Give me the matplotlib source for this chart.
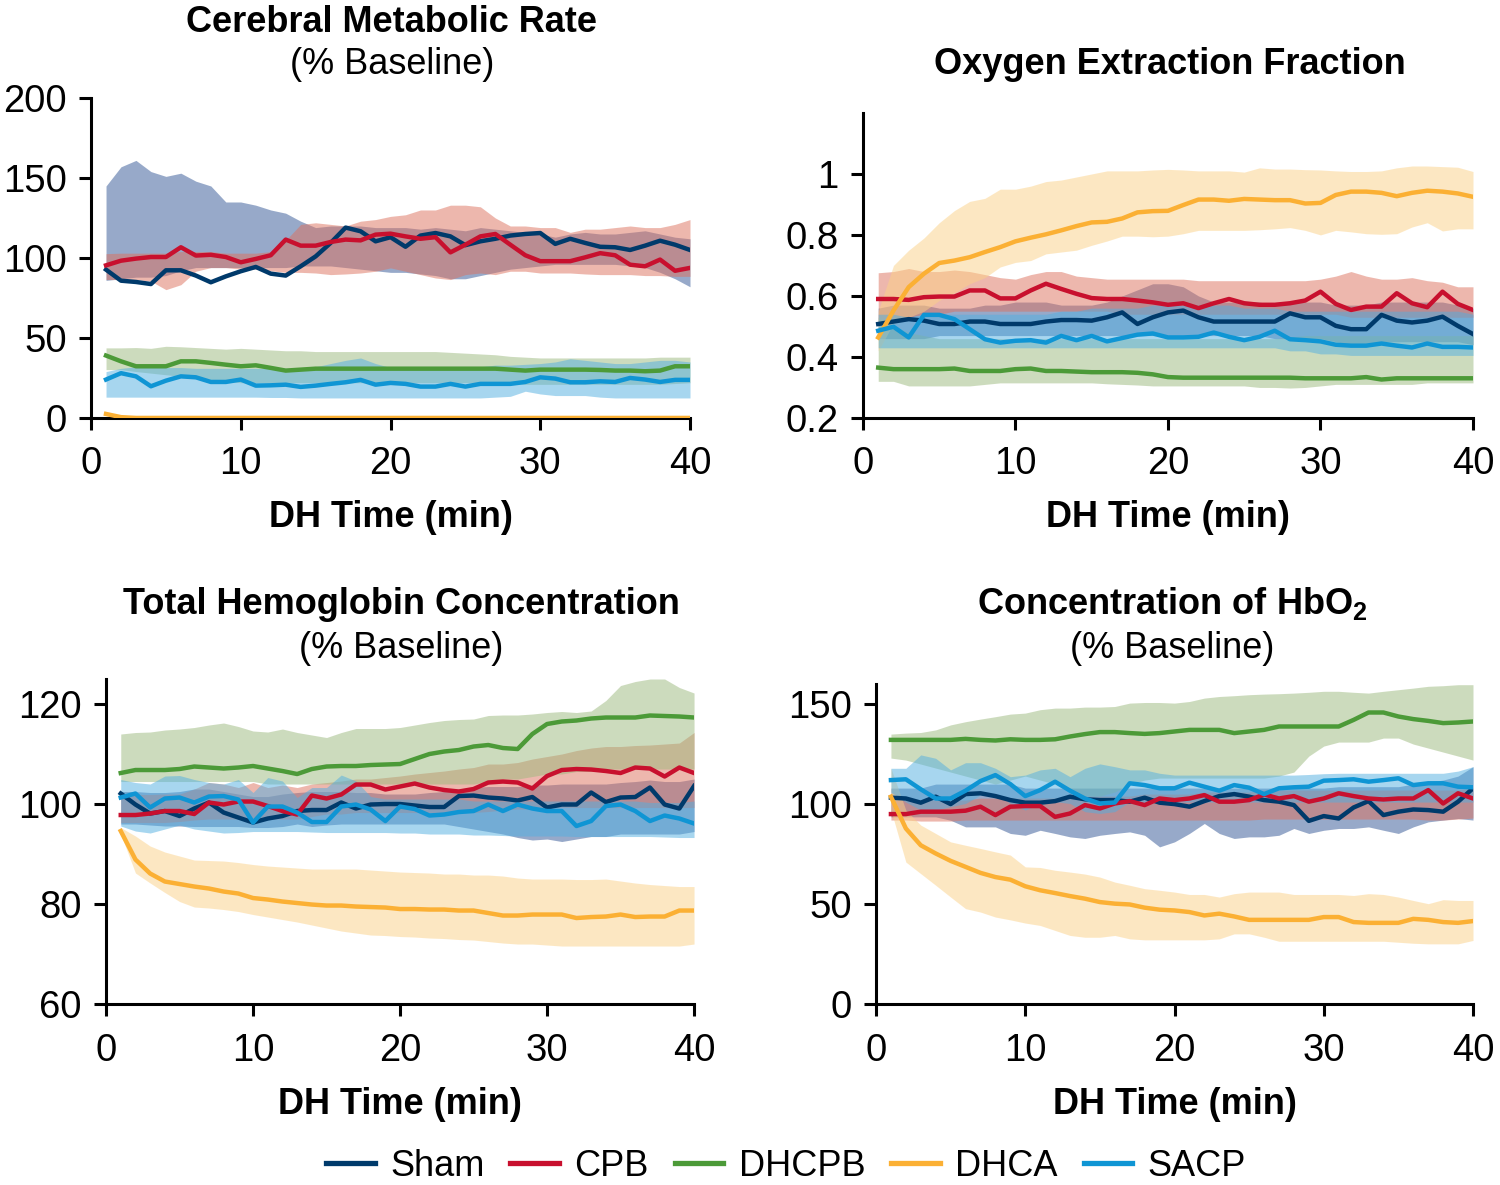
import numpy as np
import matplotlib
matplotlib.use('Agg')
import matplotlib.pyplot as plt
from matplotlib import font_manager

# pick a narrow helvetica-like face if there is one
names = set(f.name for f in font_manager.fontManager.ttflist)
if 'Liberation Sans Narrow' in names:
    FONT = 'Liberation Sans Narrow'
else:
    FONT = 'Liberation Sans'
plt.rcParams['font.family'] = [FONT, 'DejaVu Sans']
plt.rcParams['mathtext.fontset'] = 'custom'
plt.rcParams['mathtext.rm'] = FONT
plt.rcParams['mathtext.bf'] = FONT + ':bold'

TIME = list(range(1, 41))
GROUPS = ['Sham', 'CPB', 'DHCPB', 'DHCA', 'SACP']

# ---- Cerebral metabolic rate (% baseline)
CMR_SHAM = [92.7,85.8,85,83.7,92.3,92.3,89,84.8,88.5,91.7,94.4,90.2,89,94.8,101,109.4,119,116.7,110.4,113,107,114,115.6,113.5,108,110.4,112,114,115,115.6,108.8,112,109.4,107,106.7,105,107.7,110.8,108.3,105]
CMR_SHAM_HI = [145,157,161,154,151,153,148,145,135,135,133,130,128,123,119,120,120,120,119,119,119,118,119,118,117,119,118,117,116,115,113,115,116,115,115,116,117,115,113,112]
CMR_SHAM_LO = [86,87,88,88,89,92,94,94,94,94,94,94,94,95,95,95,94,93,92,91,91,90,89,87,87,89,91,93,94,95,96,96,96,96,96,95,94,91,87,82]
CMR_CPB = [95.4,98.3,99.6,100.6,100.6,106.7,101.5,102,100.6,97.3,99.4,101.7,111.5,107.7,107.7,110,111.5,111,114.6,115.2,113.5,112,113,103.5,108.3,113.5,115,108.3,101.7,98,98,98,100.4,103,101.7,95.8,94.8,99,92,93.8]
CMR_CPB_HI = [102.7,103,103,103,103,104,104,104,103,103,103,104,111,121,122,121,120,123,124,126,127,130,130,133,133,132,125,120,120,119,119,116,118,118,119,120,119,119,121,124]
CMR_CPB_LO = [86.5,86.5,86.5,85.5,80.2,83.3,91.7,94,94,93,93,92,91,91,90.6,89.6,90,90.6,91.7,93.8,91.7,89.6,87.5,86.5,89.6,90.6,89.6,91.7,91.7,90.6,90.6,90.6,90,89.6,89.6,89.6,89,89,88.5,88.5]
CMR_DHCPB = [39,35.4,32.3,32.3,32.3,35.4,35.4,34.4,33.3,32.3,32.9,31.3,29.6,30.2,30.8,30.8,30.8,30.8,30.8,30.8,30.8,30.8,30.8,30.8,30.8,30.8,30.8,30.2,29.6,30.2,30.2,30.2,30.2,30,29.6,29.6,29.2,29.6,32.3,32.3]
CMR_DHCPB_HI = [43.8,43.8,44,43.5,44.8,44.5,44,43.5,43,43.5,43,42.5,42,42,41.5,41.5,41.5,41.5,41.5,41.5,41.5,41.5,41.5,41,40.5,40,39.5,38.5,38,37.5,37.5,37.5,37.5,37.5,37.5,37.5,37.5,38,38,38]
CMR_DHCPB_LO = [30.2,30.2,29,28,27,26,25,24,23,22,22,22,22,22,22,22,22,22,22,22,22,22,22,22,22,22,22,21.5,21,21,21,21,21,21,21,21,21,21,21.5,22]
CMR_DHCA = [2.5,0.5,0,0,0,0,0,0,0,0,0,0,0,0,0,0,0,0,0,0,0,0,0,0,0,0,0,0,0,0,0,0,0,0,0,0,0,0,0,0]
CMR_DHCA_HI = [3.5,1,0.5,0.5,0.5,0.5,0.5,0.5,0.5,0.5,0.5,0.5,0.5,0.5,0.5,0.5,0.5,0.5,0.5,0.5,0.5,0.5,0.5,0.5,0.5,0.5,0.5,0.5,0.5,0.5,0.5,0.5,0.5,0.5,0.5,0.5,0.5,0.5,0.5,0.5]
CMR_DHCA_LO = [1.5,0,0,0,0,0,0,0,0,0,0,0,0,0,0,0,0,0,0,0,0,0,0,0,0,0,0,0,0,0,0,0,0,0,0,0,0,0,0,0]
CMR_SACP = [24,28,26,19.8,23.3,26,25.4,22.5,22.5,24,20.2,20.4,20.8,19.4,20.2,21.3,22.3,23.8,20.8,21.9,21.3,19.6,19.6,21.3,19.6,21.3,21.3,21.3,22.5,25.4,24.6,22.3,22.3,22.9,22.5,25,24,22.5,23.8,23.8]
CMR_SACP_HI = [29,31,32,32,31.5,31.5,31,31,31,31,31,31,31,31,32,34,36,37.5,34,31.5,31.5,31.5,31.5,31.5,31.5,32,33,33,33.5,34,35,37,36,35,34,34,35,36,36,35]
CMR_SACP_LO = [13,13,13,13,13,13,13,13,13,13,13,12.8,12.8,12.5,12.5,12.5,12.5,12.5,12.5,12.5,12.5,12.5,12.5,12.5,12.5,12.5,13,13.5,16.7,15,14,14,14,13,12.5,12.5,12.5,12.5,12.5,12.5]

# ---- Oxygen extraction fraction
OEF_SHAM = [0.508,0.516,0.524,0.519,0.508,0.508,0.516,0.516,0.508,0.508,0.508,0.516,0.521,0.521,0.519,0.530,0.546,0.508,0.530,0.546,0.552,0.530,0.516,0.516,0.516,0.516,0.516,0.543,0.530,0.530,0.502,0.491,0.491,0.538,0.519,0.513,0.519,0.532,0.502,0.475]
OEF_SHAM_HI = [0.56,0.57,0.57,0.57,0.56,0.56,0.56,0.57,0.57,0.58,0.58,0.58,0.57,0.57,0.57,0.58,0.6,0.62,0.64,0.64,0.63,0.6,0.58,0.58,0.58,0.58,0.57,0.58,0.58,0.58,0.57,0.57,0.57,0.58,0.58,0.58,0.58,0.58,0.57,0.56]
OEF_SHAM_LO = [0.46,0.46,0.46,0.46,0.47,0.47,0.47,0.47,0.47,0.47,0.47,0.47,0.47,0.47,0.47,0.47,0.47,0.47,0.47,0.47,0.47,0.47,0.47,0.47,0.47,0.47,0.46,0.46,0.46,0.46,0.45,0.44,0.44,0.45,0.45,0.45,0.45,0.45,0.45,0.44]
OEF_CPB = [0.590,0.590,0.587,0.596,0.598,0.598,0.618,0.618,0.592,0.592,0.618,0.640,0.623,0.607,0.593,0.590,0.590,0.585,0.579,0.571,0.576,0.560,0.576,0.590,0.576,0.571,0.571,0.576,0.585,0.614,0.574,0.554,0.565,0.565,0.609,0.576,0.563,0.614,0.574,0.554]
OEF_CPB_HI = [0.676,0.68,0.69,0.68,0.68,0.685,0.68,0.67,0.66,0.655,0.67,0.68,0.68,0.665,0.66,0.655,0.655,0.655,0.655,0.655,0.655,0.65,0.65,0.65,0.65,0.65,0.65,0.65,0.65,0.655,0.665,0.68,0.665,0.655,0.655,0.66,0.65,0.645,0.63,0.63]
OEF_CPB_LO = [0.5,0.52,0.53,0.54,0.54,0.55,0.55,0.55,0.55,0.55,0.55,0.55,0.55,0.55,0.55,0.55,0.54,0.54,0.54,0.54,0.54,0.54,0.54,0.54,0.54,0.54,0.54,0.54,0.54,0.54,0.54,0.53,0.53,0.53,0.53,0.53,0.53,0.53,0.53,0.53]
OEF_DHCPB = [0.365,0.36,0.36,0.36,0.36,0.362,0.354,0.354,0.354,0.36,0.362,0.354,0.354,0.352,0.35,0.35,0.35,0.348,0.343,0.334,0.332,0.332,0.332,0.332,0.332,0.332,0.332,0.332,0.33,0.33,0.33,0.33,0.334,0.326,0.33,0.33,0.33,0.33,0.33,0.33]
OEF_DHCPB_HI = [0.53,0.50,0.48,0.47,0.46,0.46,0.46,0.46,0.46,0.46,0.46,0.46,0.46,0.46,0.46,0.46,0.46,0.46,0.46,0.46,0.46,0.46,0.46,0.46,0.46,0.46,0.46,0.465,0.47,0.47,0.47,0.47,0.47,0.47,0.47,0.47,0.47,0.47,0.47,0.47]
OEF_DHCPB_LO = [0.32,0.32,0.305,0.305,0.305,0.305,0.305,0.31,0.315,0.315,0.315,0.315,0.315,0.315,0.315,0.312,0.31,0.308,0.305,0.305,0.305,0.305,0.305,0.305,0.305,0.3,0.3,0.298,0.3,0.305,0.31,0.31,0.31,0.31,0.31,0.31,0.315,0.315,0.315,0.315]
OEF_DHCA = [0.464,0.552,0.629,0.673,0.708,0.716,0.727,0.744,0.760,0.779,0.791,0.802,0.815,0.829,0.841,0.843,0.854,0.874,0.878,0.879,0.898,0.916,0.916,0.912,0.918,0.916,0.914,0.914,0.903,0.905,0.931,0.942,0.942,0.938,0.927,0.938,0.945,0.942,0.936,0.925]
OEF_DHCA_HI = [0.55,0.70,0.75,0.79,0.84,0.88,0.91,0.92,0.95,0.95,0.96,0.975,0.98,0.99,1.0,1.01,1.01,1.01,1.013,1.015,1.013,1.01,1.01,1.01,1.006,1.02,1.016,1.016,1.014,1.013,1.01,1.008,1.008,1.01,1.02,1.026,1.026,1.024,1.022,1.008]
OEF_DHCA_LO = [0.42,0.51,0.53,0.55,0.585,0.61,0.64,0.66,0.695,0.71,0.716,0.738,0.744,0.75,0.766,0.78,0.796,0.796,0.794,0.796,0.804,0.815,0.815,0.815,0.815,0.817,0.82,0.824,0.815,0.80,0.815,0.81,0.804,0.802,0.804,0.826,0.84,0.813,0.82,0.82]
OEF_SACP = [0.486,0.499,0.464,0.538,0.538,0.524,0.491,0.458,0.447,0.453,0.455,0.447,0.469,0.455,0.469,0.451,0.462,0.473,0.477,0.464,0.464,0.466,0.480,0.466,0.455,0.466,0.486,0.458,0.455,0.451,0.440,0.437,0.437,0.444,0.437,0.431,0.444,0.433,0.433,0.431]
OEF_SACP_HI = [0.54,0.54,0.53,0.54,0.54,0.54,0.54,0.54,0.54,0.54,0.54,0.54,0.55,0.55,0.56,0.56,0.56,0.56,0.57,0.57,0.57,0.57,0.57,0.57,0.56,0.56,0.56,0.55,0.55,0.55,0.55,0.55,0.55,0.55,0.55,0.55,0.55,0.55,0.55,0.54]
OEF_SACP_LO = [0.43,0.43,0.43,0.43,0.43,0.43,0.43,0.43,0.43,0.43,0.43,0.43,0.43,0.43,0.43,0.43,0.43,0.43,0.43,0.43,0.43,0.43,0.43,0.43,0.43,0.43,0.43,0.42,0.42,0.41,0.41,0.405,0.405,0.405,0.405,0.405,0.405,0.405,0.405,0.405]

# ---- Total hemoglobin concentration (% baseline)
THC_SHAM = [102.1,99.9,98.1,98.6,97.6,99.1,100.3,98.3,97.3,96.3,97.1,97.6,98.6,98.8,98.8,100.3,99.1,99.9,100,100,99.7,99.4,99.4,101.6,101.7,101.3,101.1,100.7,101.4,99.3,99.9,99.9,102.3,100.4,101.3,101.4,103.3,99.9,99.1,103.6]
THC_SHAM_HI = [102.5,102.5,102.3,102.3,102.5,103,103,102.5,102,101.5,101.5,102,102.3,102.5,102.5,102.5,102.3,102.3,102,102,102,102.3,102.5,103,103.3,103.5,103.5,103.5,103.8,103.8,104,104,104,104,104.3,104.5,104.8,104.5,104.5,105]
THC_SHAM_LO = [96,96,95.8,95.6,95.6,95.5,95.5,95.5,95.5,95.3,95.3,95.5,96,95.5,95.8,96,96,96,96,96,96,96,96,95.5,95,94.5,94,93.3,92.8,93,92.5,93,93.5,93.5,94,94,94,94,94,94.5]
THC_CPB = [97.8,97.8,98.1,98.6,98.6,98,100.3,99.9,100.5,100.5,99.6,98.6,97.9,101.7,101.1,101.9,103.9,103.9,102.9,103.5,104.1,103.3,102.8,102.5,103,104.3,104.5,104.3,103.1,105.6,106.8,107,106.9,106.6,106.2,107.3,107.1,105.5,107.3,106.2]
THC_CPB_HI = [101.7,101.9,101.9,102,102,103,104.3,104,103.3,104.3,103.3,103.8,103.3,104,104.3,104.6,105,105,105.3,105.6,106,106.3,106.6,107,107.3,108,108,108.3,109,109.5,110,110.7,111.2,111.5,111.5,111.7,111.8,112,112.2,114.3]
THC_CPB_LO = [96.3,96.3,96.3,96.3,96.5,96.8,97,97,97,97,97,97,97,97.5,98,98,98.3,98.3,98.3,98.3,98.3,98.3,98.3,98.3,98.3,98.5,98.8,99,99,99.3,99.3,99.3,99.3,99.3,99.3,99.3,99.3,99.3,99.3,99.3]
THC_DHCPB = [106.2,106.8,106.8,106.8,107,107.5,107.3,107.1,107.3,107.6,107.1,106.6,106,107,107.5,107.6,107.6,107.8,107.9,108,109,110,110.5,110.8,111.5,111.8,111.2,111,114,116,116.5,116.7,117.1,117.3,117.3,117.3,117.7,117.6,117.5,117.3]
THC_DHCPB_HI = [114,114.3,114.4,114.8,115,115.3,115.8,116.2,115.5,114.6,114.4,115,114.3,113.8,113.3,114.3,115.1,115.1,115.1,115.3,115.8,116.3,116.7,116.9,117,117.7,117.8,117.8,118,118.3,118.5,118.3,118.6,120.7,123.7,124.5,125,125,123.3,122.2]
THC_DHCPB_LO = [104.5,104.5,104.5,104.5,104.5,104.5,104.5,104.5,104.5,104.5,104,104,104,104,104,104,104,104,104,104,104,104,104,104,104,104.5,105,105,105.5,106,106,106.5,106.5,107,107,107,107,107,107,107]
THC_DHCA = [94.6,88.9,86.1,84.5,84.0,83.5,83.1,82.5,82.1,81.2,80.9,80.5,80.2,79.9,79.7,79.7,79.5,79.4,79.3,79.0,79.0,78.9,78.9,78.7,78.7,78.2,77.7,77.7,77.9,77.9,77.9,77.2,77.4,77.5,77.9,77.4,77.5,77.5,78.7,78.7]
THC_DHCA_HI = [95.3,93.6,91.6,90.4,89.6,88.8,88.7,88.6,88.3,87.9,87.6,87.4,87.2,87.0,87.0,87.0,87.0,86.8,86.6,86.4,86.3,86.2,86.0,86.0,85.8,85.8,85.6,85.2,85.0,85.0,85.0,84.9,84.9,85.0,84.6,84.2,83.9,83.7,83.5,83.5]
THC_DHCA_LO = [94,86.2,84.2,82.3,80.5,79.4,79.2,78.9,78.5,77.9,77.4,76.9,76.4,75.8,75.2,74.6,74.2,73.8,73.7,73.5,73.4,73.2,73.1,72.9,72.8,72.5,72.2,72.0,72.0,71.8,71.6,71.6,71.6,71.6,71.6,71.6,71.6,71.6,71.6,72.0]
THC_SACP = [101.3,102.1,99.3,101.1,101.3,100.3,101.5,101.6,100.9,96.3,99.5,99.5,98.3,96.4,96.4,99.5,99.9,98.9,96.6,99.5,99,97.7,97.9,98.4,98.6,99.9,98.6,99.9,99.1,98.6,98.6,95.6,96.6,99.6,99.9,98.6,96.6,97.7,97.1,96.1]
THC_SACP_HI = [104.9,104.3,104,105.6,105.7,104.9,104.3,104,104.9,102.3,105.3,104.6,101.3,103.3,103.3,105.8,104.6,101.5,101,101,101,101,101,101,100.6,100.6,100.6,100.6,100.6,100.6,100.6,100.6,100.6,100.6,100.6,100.6,100.3,100.3,100.3,100.6]
THC_SACP_LO = [95.6,94.6,94.2,95,95.8,95,94.6,94.2,94.3,94.5,94.5,94.5,94.5,94.4,94.3,94.3,94.3,94.3,94.3,94.2,94.2,94,94,94,93.8,93.8,93.7,93.6,93.6,93.6,93.6,93.5,93.5,93.5,93.5,93.5,93.5,93.4,93.3,93.3]

# ---- HbO2 concentration (% baseline)
HBO_SHAM = [103.2,102.8,100.7,103.7,100,105,105.4,104,102,100.7,100.7,101.5,103.7,102.4,102,102,101.2,103.2,100.7,100,98.7,101.5,104,105,103.7,102,101.2,99.5,91.6,94,92.8,98.3,101.5,94.5,96.2,97.3,97,96.2,101.2,107.9]
HBO_SHAM_HI = [108,108,108,110,110,110,110,110,110,108,108,108,108,108,108,108,108,108,108,108,108,108,108,108,108,108,108,108,108,108,108.7,108.7,108.7,108.7,108.7,110,111,112,114,118.7]
HBO_SHAM_LO = [93.6,93.6,93.6,93.6,91.9,88.6,88.6,88.6,85.3,84.4,86.9,85.3,83.6,82.8,84.4,85.3,86.1,84.4,78.6,81.1,85.3,90.3,85.3,82.8,83.6,83.6,84.4,87.8,85.3,86.9,87.8,87.8,88.6,86.9,85.3,88.6,91.1,92,92.8,92]
HBO_CPB = [95,95,96.2,96.2,96.2,96.7,98.7,94.5,98.7,99,99,93.6,95.3,99.5,97.8,100.3,101.5,99.5,102.8,102,102.8,104.5,101.2,101.2,102,104.8,102.8,104,101.2,102.8,105.4,104,102.8,102.3,102.8,102.8,107,100.3,105.4,102.8]
HBO_CPB_HI = [102,102,102,102,102,102,103,103,103,103,103,103,103,104,104,104,104,105,105,105,105,106,106,106,106,107,107,107,107,107,107,107,107,107,107,107,107,107,107,108]
HBO_CPB_LO = [92,92,91.5,91.5,91.5,92,92,92,92,92,92,92,92,92,92,92,92,92,92,92,92,92,92,92,92,92.5,92.5,92.5,92.5,92.5,92.5,92.5,92.5,92.5,92.5,92.5,92,92,92.5,93]
HBO_DHCPB = [132.1,132.1,132.1,132.1,132.1,132.6,132.1,131.8,132.4,132.1,132.1,132.4,133.8,135,136,136,135.5,135.1,135.5,136.3,137.1,137.1,137.1,135.5,136.3,137.1,138.8,138.8,138.8,138.8,138.8,142.1,145.8,145.8,143.8,142.5,141.6,140.5,140.8,141.3]
HBO_DHCPB_HI = [135,135.5,135.8,137.1,139.6,141.2,142.5,143.7,145,145.5,147.2,148,148,148.5,148.5,148.8,150.5,150.8,150.8,150.5,151.3,153,153.8,154.2,154.7,155,155.2,155.5,155.9,156.4,156.4,155.9,155.5,156.4,157.2,158,158.9,159.2,159.7,159.7]
HBO_DHCPB_LO = [123,122,120,118,116,114,112,110,112,114,112,110,106,104,104,106,110,112,113,113,113,113,113,113,113,113,114,116,124,129,131,131,131,133,133,130,128,126,124,122]
HBO_DHCA = [103.7,87.8,79.4,75.3,71.6,68.6,65.6,63.5,62.2,58.9,56.9,55.5,54,52.7,51,50.2,49.8,48.2,47.2,46.8,46,44.3,45.2,43.8,42.1,42.1,42.1,42.1,42.1,43.5,43.5,41,40.6,40.6,40.6,42.6,42.1,41,40.6,41.5]
HBO_DHCA_HI = [118,97,89.5,85.3,81.1,79.4,77.8,76.1,74.5,68.6,68.3,66.9,66,65,63.5,61,59.4,57.7,56.9,56,54.8,54.8,53.5,55.2,56,56,56,54.8,54.8,54.8,54.8,54.3,55.2,54.8,53.5,51.8,50.2,52.2,51.8,51.8]
HBO_DHCA_LO = [97,71,65.2,59.4,53.5,47.7,46,43.5,42.1,40.5,39.3,36.8,34.3,33.4,33.4,34.3,32.6,32.1,32.1,32.1,32.1,32.1,32.6,35.1,35.1,33.4,31.4,31.4,31.4,31.4,31.4,31.4,31.4,31.4,30.9,30.4,30.1,30.1,30.1,31.8]
HBO_SACP = [112,112.4,107.4,102.8,102.8,106.7,111.5,114.5,110,104,107,111.2,106.7,102.8,100.3,100.8,110.4,109.5,107.9,107.9,110.7,108.7,106.7,109.5,108.2,105,107.9,108.4,108.7,111.7,112,112.4,111.2,112,112.9,109.5,110.4,110.4,108.7,108.4]
HBO_SACP_HI = [117.9,117.9,124.6,122.9,117.1,120.7,120.7,117.9,113.7,114.5,117.1,117.9,113.7,117.9,120.1,118.7,117.1,117.1,115.4,114.5,114.5,114.5,114.5,114.5,114.5,114.5,114.5,114.5,114.8,115.2,115.4,115.4,115.4,115.4,115.4,115.4,115.4,115.4,116.5,118.7]
HBO_SACP_LO = [106,101,97,97,98.7,100.3,104.5,105.4,100.3,97,100.3,101.2,100.3,96.2,95.3,96.2,101.2,100.3,101,101,101,101,101,101,101,101,101,101,101,101,101,101,101,101,101,101,101,101,101,101]

LINE_COLORS = ['#003a6b', '#c8102e', '#4c9a38', '#fbb034', '#0f95d4']
BAND_COLORS = ['#315595', '#dd715d', '#9bb97d', '#fbd187', '#51afe1']


def series(prefix):
    g = globals()
    out = []
    for name in GROUPS:
        key = prefix + '_' + name.upper()
        out.append((g[key], g[key + '_LO'], g[key + '_HI']))
    return out


panels = [
    # prefix, axes rect (fig fraction), ylim, yticks, ytick labels
    ('CMR', [0.0607, 0.6473, 0.3993, 0.2700], (0, 200), [0, 50, 100, 150, 200], None),
    ('OEF', [0.5753, 0.6473, 0.4067, 0.2574], (0.2, 1.2), [0.2, 0.4, 0.6, 0.8, 1.0], ['0.2', '0.4', '0.6', '0.8', '1']),
    ('THC', [0.0707, 0.1527, 0.3920, 0.2743], (60, 125), [60, 80, 100, 120], None),
    ('HBO', [0.5840, 0.1527, 0.3980, 0.2700], (0, 160), [0, 50, 100, 150], None),
]

fig = plt.figure(figsize=(15, 11.85), dpi=100)
TICK_FS = 27.5
TXT_FS = 26

line_handles = []
for prefix, rect, ylim, yticks, ylabels in panels:
    ax = fig.add_axes(rect)
    data = series(prefix)
    for i, (m, lo, hi) in enumerate(data):
        ax.fill_between(TIME, lo, hi, color=BAND_COLORS[i], alpha=0.5, linewidth=0, zorder=1)
    handles = []
    for i, (m, lo, hi) in enumerate(data):
        h, = ax.plot(TIME, m, color=LINE_COLORS[i], lw=3.2, zorder=3, label=GROUPS[i])
        handles.append(h)
    line_handles = handles
    ax.set_xlim(0, 40)
    ax.set_ylim(*ylim)
    ax.set_xticks([0, 10, 20, 30, 40])
    ax.set_yticks(yticks)
    if ylabels is not None:
        ax.set_yticklabels(ylabels)
    for s in ['top', 'right']:
        ax.spines[s].set_visible(False)
    for s in ['left', 'bottom']:
        ax.spines[s].set_linewidth(2.2)
    ax.tick_params(length=8.5, width=2.2, labelsize=TICK_FS, pad=9)
    ax.tick_params(axis='x', pad=12)
    ax.set_xlabel('DH Time (min)', fontsize=TXT_FS, fontweight='bold', labelpad=13)


def px(x, y):
    return x / 1500.0, 1 - y / 1185.0


title_kw = dict(ha='center', va='center', fontsize=TXT_FS, fontweight='bold')
sub_kw = dict(ha='center', va='center', fontsize=TXT_FS)
fig.text(*px(392, 22), 'Cerebral Metabolic Rate', **title_kw)
fig.text(*px(392, 65), '(% Baseline)', **sub_kw)
fig.text(*px(1170, 64), 'Oxygen Extraction Fraction', **title_kw)
fig.text(*px(401, 604), 'Total Hemoglobin Concentration', **title_kw)
fig.text(*px(401, 648), '(% Baseline)', **sub_kw)
fig.text(*px(1172, 604), r'Concentration of HbO$_\mathbf{2}$', **title_kw)
fig.text(*px(1172, 648), '(% Baseline)', **sub_kw)

fig.legend(line_handles, GROUPS, loc='center', bbox_to_anchor=px(786, 1166), ncol=5,
           frameon=False, fontsize=TXT_FS, handlelength=1.35, handletextpad=0.42,
           columnspacing=0.72, borderpad=0)
for lh in fig.legends[0].get_lines():
    lh.set_linewidth(3.8)

fig.savefig('out.png', dpi=100)
